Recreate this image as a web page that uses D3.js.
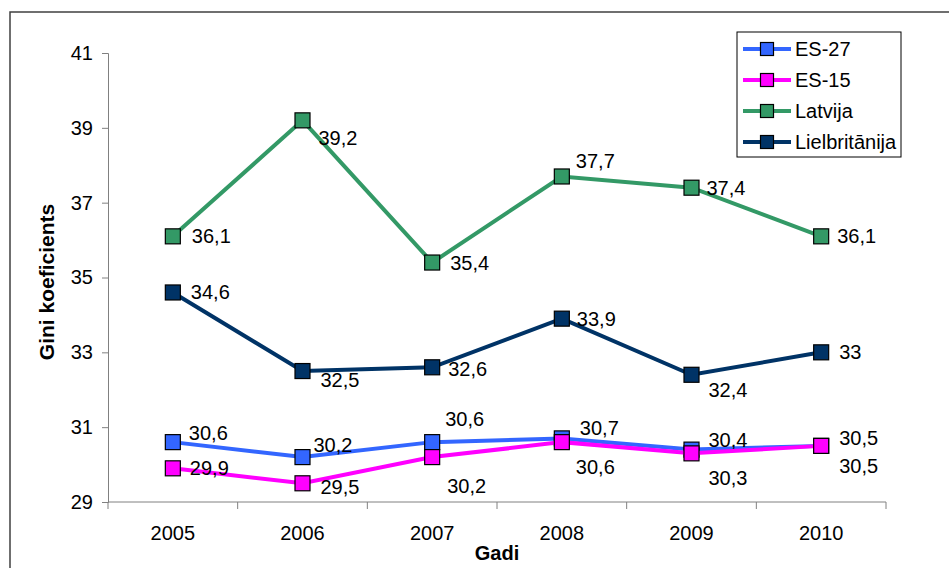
<!DOCTYPE html>
<html>
<head>
<meta charset="utf-8">
<script src="https://cdn.jsdelivr.net/npm/d3@7"></script>
<style>
  body { margin: 0; background: #fff; }
  svg { font-family: "Liberation Sans", Arial, sans-serif; }
</style>
</head>
<body>
<svg id="chart" width="949" height="568"></svg>
<script>
// data
const years = ['2005', '2006', '2007', '2008', '2009', '2010'];
const es27 = [30.6, 30.2, 30.6, 30.7, 30.4, 30.5];
const es15 = [29.9, 29.5, 30.2, 30.6, 30.3, 30.5];
const latvija = [36.1, 39.2, 35.4, 37.7, 37.4, 36.1];
const lielbritanija = [34.6, 32.5, 32.6, 33.9, 32.4, 33];
const yTicks = [29, 31, 33, 35, 37, 39, 41];

const series = [
  { name: 'ES-27', values: es27, color: '#3366ff' },
  { name: 'ES-15', values: es15, color: '#ff00ff' },
  { name: 'Latvija', values: latvija, color: '#339966' },
  { name: 'Lielbritānija', values: lielbritanija, color: '#003366' }
];

// where each value label sits relative to its marker [dx, dy]
const labelNudge = {
  'ES-27': [[16, -9], [11, -12], [13, -23], [18, -10], [17, -10], [18, -8]],
  'ES-15': [[17, 0], [18, 4], [15, 29], [14, 25], [17, 25], [18, 20]],
  'Latvija': [[19, 0], [16, 18], [18, 0], [14, -15], [15, 0], [16, 0]],
  'Lielbritānija': [[18, 0], [18, 9], [16, 2], [15, 0], [17, 15], [18, 0]]
};

const margin = { top: 53, right: 63, bottom: 66, left: 108 };
const width = 949 - margin.left - margin.right;
const height = 568 - margin.top - margin.bottom;
const fontSize = 20;
const axisColor = '#808080';

const svg = d3.select('#chart');

// outer frame (only top and left edges are visible)
svg.append('path')
    .attr('d', 'M10,568V12H949')
    .attr('fill', 'none')
    .attr('stroke', '#404040')
    .attr('stroke-width', 1.5);

const g = svg.append('g')
    .attr('transform', `translate(${margin.left}, ${margin.top})`);

const x = d3.scaleBand()
    .domain(years)
    .range([0, width]);

const y = d3.scaleLinear()
    .domain([29, 41])
    .range([height, 0]);

const cx = d => x(d) + x.bandwidth() / 2;

// axes
const yAxis = d3.axisLeft(y)
    .tickValues(yTicks)
    .tickSize(6)
    .tickPadding(9);

g.append('g')
    .attr('class', 'y axis')
    .call(yAxis)
    .call(a => a.selectAll('path, line').attr('stroke', axisColor).attr('stroke-width', 1))
    .call(a => a.selectAll('text').attr('font-size', fontSize).attr('font-family', null).attr('fill', '#000'));

const xAxisG = g.append('g')
    .attr('class', 'x axis')
    .attr('transform', `translate(0, ${height})`);

xAxisG.append('line')
    .attr('x1', 0)
    .attr('x2', width)
    .attr('stroke', axisColor);

xAxisG.selectAll('.tick-mark')
  .data(years.concat(['end']))
  .join('line')
    .attr('class', 'tick-mark')
    .attr('x1', (d, i) => i * x.bandwidth())
    .attr('x2', (d, i) => i * x.bandwidth())
    .attr('y1', 0)
    .attr('y2', 7)
    .attr('stroke', axisColor);

xAxisG.selectAll('.tick-label')
  .data(years)
  .join('text')
    .attr('class', 'tick-label')
    .attr('x', cx)
    .attr('y', 31)
    .attr('text-anchor', 'middle')
    .attr('dominant-baseline', 'central')
    .attr('font-size', fontSize)
    .text(d => d);

// axis titles
g.append('text')
    .attr('x', width / 2)
    .attr('y', height + 51)
    .attr('text-anchor', 'middle')
    .attr('dominant-baseline', 'central')
    .attr('font-size', 20)
    .attr('font-weight', 'bold')
    .text('Gadi');

g.append('text')
    .attr('transform', `translate(${46 - margin.left}, ${282 - margin.top}) rotate(-90)`)
    .attr('text-anchor', 'middle')
    .attr('dominant-baseline', 'central')
    .attr('font-size', 21)
    .attr('font-weight', 'bold')
    .text('Gini koeficients');

// lines and markers
const line = d3.line()
    .x((d, i) => cx(years[i]))
    .y(d => y(d));

const seriesG = g.selectAll('.series')
  .data(series)
  .join('g')
    .attr('class', 'series');

seriesG.append('path')
    .attr('d', d => line(d.values))
    .attr('fill', 'none')
    .attr('stroke', d => d.color)
    .attr('stroke-width', 4);

const markerSize = 15;

seriesG.selectAll('rect')
  .data(d => d.values.map((v, i) => ({ v, i, color: d.color })))
  .join('rect')
    .attr('x', d => cx(years[d.i]) - markerSize / 2)
    .attr('y', d => y(d.v) - markerSize / 2)
    .attr('width', markerSize)
    .attr('height', markerSize)
    .attr('fill', d => d.color)
    .attr('stroke', '#000')
    .attr('stroke-width', 1.2);

// value labels
const fmt = v => String(v).replace('.', ',');

seriesG.selectAll('.value')
  .data(d => d.values.map((v, i) => ({ v, i, nudge: labelNudge[d.name][i] })))
  .join('text')
    .attr('class', 'value')
    .attr('x', d => cx(years[d.i]) + d.nudge[0])
    .attr('y', d => y(d.v) + d.nudge[1])
    .attr('dominant-baseline', 'central')
    .attr('font-size', fontSize)
    .text(d => fmt(d.v));

// legend
const legend = svg.append('g')
    .attr('transform', 'translate(737, 32)');

legend.append('rect')
    .attr('width', 164)
    .attr('height', 125)
    .attr('fill', '#fff')
    .attr('stroke', '#000')
    .attr('stroke-width', 1);

const items = legend.selectAll('.item')
  .data(series)
  .join('g')
    .attr('class', 'item')
    .attr('transform', (d, i) => `translate(0, ${17 + i * 31})`);

items.append('line')
    .attr('x1', 6)
    .attr('x2', 54)
    .attr('stroke', d => d.color)
    .attr('stroke-width', 4);

items.append('rect')
    .attr('x', 30 - 6.5)
    .attr('y', -6.5)
    .attr('width', 13)
    .attr('height', 13)
    .attr('fill', d => d.color)
    .attr('stroke', '#000')
    .attr('stroke-width', 1.2);

items.append('text')
    .attr('x', 58)
    .attr('dominant-baseline', 'central')
    .attr('font-size', fontSize)
    .text(d => d.name);
</script>
</body>
</html>
